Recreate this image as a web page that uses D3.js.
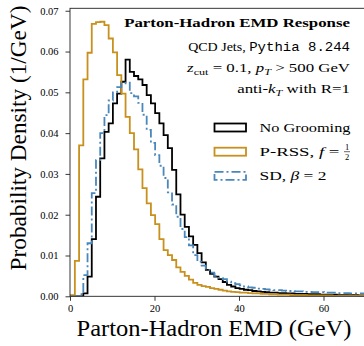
<!DOCTYPE html>
<html lang="en">
<head>
<meta charset="utf-8">
<title>Parton-Hadron EMD Response</title>
<script src="https://cdn.jsdelivr.net/npm/d3@7"></script>
<style>
body { margin:0; background:#ffffff; }
svg text { font-family:"Liberation Serif", "DejaVu Serif", serif; fill:#000; }
.mono { font-family:"Liberation Mono", "DejaVu Sans Mono", monospace; }
</style>
</head>
<body>
<script>

// histogram bins, 1 GeV wide
var binStart = 0.15;
var binWidth = 1;

// No Grooming
var noGrooming = [0, 0, 0, 0.0007, 0.0048, 0.0140, 0.0244, 0.0338, 0.0403, 0.0424,
	0.0473, 0.0497, 0.0526, 0.0580, 0.0550, 0.0540, 0.0532, 0.0518, 0.0493, 0.0473,
	0.0449, 0.0424, 0.0395, 0.0363, 0.0310, 0.0250, 0.0200, 0.0170, 0.0147, 0.0126,
	0.0106, 0.0083, 0.0065, 0.0055, 0.0048, 0.0042, 0.0035, 0.0028, 0.0024, 0.0020,
	0.0018, 0.0016, 0.0015, 0.0013, 0.0012, 0.0011, 0.0010, 0.0009, 0.0009, 0.0008,
	0.0008, 0.0007, 0.0007, 0.0006, 0.0006, 0.0006, 0.0005, 0.0005, 0.0005, 0.0004,
	0.0004, 0.0004, 0.0004, 0.0003, 0.0003, 0.0003, 0.0003, 0.0003, 0.0002, 0.0002];

// P-RSS, f = 1/2
var prss = [0.0003, 0.0087, 0.0370, 0.0532, 0.0597, 0.0668, 0.0672, 0.0673, 0.0665, 0.0632,
	0.0598, 0.0542, 0.0497, 0.0440, 0.0400, 0.0360, 0.0311, 0.0265, 0.0228, 0.0199,
	0.0177, 0.0140, 0.0113, 0.0101, 0.0089, 0.0071, 0.0060, 0.0050, 0.0041, 0.0033,
	0.0028, 0.0025, 0.0023, 0.0020, 0.0018, 0.0016, 0.0014, 0.0012, 0.0011, 0.0010,
	0.0009, 0.0009, 0.0008, 0.0007, 0.0007, 0.0006, 0.0006, 0.0005, 0.0005, 0.0004,
	0.0004, 0.0004, 0.0003, 0.0003, 0.0003, 0.0003, 0.0002, 0.0002, 0.0002, 0.0002,
	0.0002, 0.0002, 0.0001, 0.0001, 0.0001, 0.0001, 0.0001, 0.0001, 0.0001, 0.0001];

// SD, beta = 2
var softDrop = [0, 0, 0.0005, 0.0052, 0.0130, 0.0253, 0.0334, 0.0400, 0.0444, 0.0480,
	0.0500, 0.0513, 0.0522, 0.0524, 0.0498, 0.0490, 0.0474, 0.0445, 0.0408, 0.0376,
	0.0346, 0.0320, 0.0290, 0.0255, 0.0225, 0.0195, 0.0165, 0.0145, 0.0125, 0.0101,
	0.0085, 0.0075, 0.0065, 0.0058, 0.0050, 0.0045, 0.0042, 0.0036, 0.0032, 0.0030,
	0.0027, 0.0024, 0.0022, 0.0021, 0.0019, 0.0018, 0.0017, 0.0016, 0.0015, 0.0015,
	0.0014, 0.0013, 0.0013, 0.0012, 0.0012, 0.0011, 0.0011, 0.0010, 0.0010, 0.0010,
	0.0009, 0.0009, 0.0009, 0.0008, 0.0008, 0.0008, 0.0007, 0.0007, 0.0007, 0.0007];

var xTicks = [0, 20, 40, 60];
var yTicks = [0, 0.01, 0.02, 0.03, 0.04, 0.05, 0.06, 0.07];

//Width and height
var w = 364;
var h = 346;
var pad = { left: 70, top: 8.3, bottom: 296.3, right: 365.75 };

var xScale = d3.scaleLinear().domain([0, 70]).range([pad.left, pad.right]);
var yScale = d3.scaleLinear().domain([0, 0.0706]).range([pad.bottom, pad.top]);

var svg = d3.select("body").append("svg")
	.attr("width", w)
	.attr("height", h);

svg.append("clipPath").attr("id", "plotclip")
	.append("rect")
	.attr("x", pad.left).attr("y", pad.top - 2)
	.attr("width", pad.right - pad.left).attr("height", pad.bottom - pad.top + 2);

//step outline like histtype="step"
var stepPoints = function(vals) {
	var pts = [[binStart, 0]];
	vals.forEach(function(v, i) {
		pts.push([binStart + i * binWidth, v]);
		pts.push([binStart + (i + 1) * binWidth, v]);
	});
	pts.push([binStart + vals.length * binWidth, 0]);
	return pts;
};

var line = d3.line()
	.x(function(d) { return xScale(d[0]); })
	.y(function(d) { return yScale(d[1]); });

var series = [
	{ vals: noGrooming, color: "#000000", dash: null },
	{ vals: prss, color: "#c8901c", dash: null },
	{ vals: softDrop, color: "#4a87bb", dash: "9,3,2,3" }
];

var plot = svg.append("g").attr("clip-path", "url(#plotclip)");
series.forEach(function(s) {
	plot.append("path")
		.attr("d", line(stepPoints(s.vals)))
		.attr("fill", "none")
		.attr("stroke", s.color)
		.attr("stroke-width", 1.8)
		.attr("stroke-dasharray", s.dash);
});

//Axes
var xAxis = d3.axisBottom(xScale).tickValues(xTicks).tickSize(4.5).tickPadding(4);
var yAxis = d3.axisLeft(yScale).tickValues(yTicks).tickFormat(d3.format(".2f")).tickSize(4.5).tickPadding(7);

var gx = svg.append("g").attr("transform", "translate(0," + pad.bottom + ")").call(xAxis);
var gy = svg.append("g").attr("transform", "translate(" + pad.left + ",0)").call(yAxis);
[gx, gy].forEach(function(g) {
	g.select(".domain").remove();
	g.selectAll(".tick line").attr("stroke", "#222").attr("stroke-width", 0.9);
	g.selectAll(".tick text").attr("font-family", "Liberation Serif").attr("font-size", 10.5).attr("fill", "#000");
});

//frame
svg.append("rect")
	.attr("x", pad.left).attr("y", pad.top)
	.attr("width", pad.right - pad.left).attr("height", pad.bottom - pad.top)
	.attr("fill", "none").attr("stroke", "#222").attr("stroke-width", 0.9);

//stretch a text horizontally (Computer Modern is wider than Times)
var stretch = function(t, ax, width) {
	var len = t.node().getComputedTextLength();
	var k = width / len;
	var old = t.attr("transform") || "";
	t.attr("transform", old + " translate(" + ax + ",0) scale(" + k + ",1) translate(" + (-ax) + ",0)");
};

//axis labels
var ylab = svg.append("text")
	.attr("text-anchor", "middle").attr("dy", "0.35em")
	.attr("font-size", 22.5)
	.text("Probability Density (1/GeV)");
var ylen = ylab.node().getComputedTextLength();
ylab.attr("transform", "translate(18,138) rotate(-90) scale(" + (265 / ylen) + ",1)");

var xlab = svg.append("text")
	.attr("x", 214).attr("y", 328).attr("dy", "0.35em")
	.attr("text-anchor", "middle")
	.attr("font-size", 22.5)
	.text("Parton-Hadron EMD (GeV)");
stretch(xlab, 214, 275);

//header text
var tx = 350;
var t1 = svg.append("text").attr("x", tx).attr("y", 23).attr("dy", "0.35em")
	.attr("text-anchor", "end").attr("font-weight", "bold").attr("font-size", 12.5)
	.text("Parton-Hadron EMD Response");
stretch(t1, tx, 226);

var t2 = svg.append("text").attr("x", tx).attr("y", 47).attr("dy", "0.35em")
	.attr("text-anchor", "end").attr("font-size", 12.5);
t2.append("tspan").text("QCD Jets, ");
t2.append("tspan").attr("class", "mono").text("Pythia 8.244");
stretch(t2, tx, 162);

var t3 = svg.append("text").attr("x", tx).attr("y", 68).attr("dy", "0.35em")
	.attr("text-anchor", "end").attr("font-size", 12.5);
t3.append("tspan").attr("font-style", "italic").text("z");
t3.append("tspan").attr("font-size", 9).attr("dy", 3).text("cut");
t3.append("tspan").attr("dy", -3).text(" = 0.1,  ");
t3.append("tspan").attr("font-style", "italic").text("p");
t3.append("tspan").attr("font-size", 9).attr("font-style", "italic").attr("dy", 3).text("T");
t3.append("tspan").attr("dy", -3).text(" > 500 GeV");
stretch(t3, tx, 163);

var t4 = svg.append("text").attr("x", tx).attr("y", 89).attr("dy", "0.35em")
	.attr("text-anchor", "end").attr("font-size", 12.5);
t4.append("tspan").text("anti-");
t4.append("tspan").attr("font-style", "italic").text("k");
t4.append("tspan").attr("font-size", 9).attr("font-style", "italic").attr("dy", 3).text("T");
t4.append("tspan").attr("dy", -3).text(" with R=1");
stretch(t4, tx, 113);

//legend
var legY = [127.5, 151.7, 175.9];
series.forEach(function(s, i) {
	svg.append("rect")
		.attr("x", 214.5).attr("y", legY[i] - 4)
		.attr("width", 31.5).attr("height", 8)
		.attr("fill", "none")
		.attr("stroke", s.color)
		.attr("stroke-width", 1.8)
		.attr("stroke-dasharray", s.dash);
});

var lx = 259.5;
var l1 = svg.append("text").attr("x", lx).attr("y", legY[0]).attr("dy", "0.35em")
	.attr("font-size", 13).text("No Grooming");
stretch(l1, lx, 91);

var l2 = svg.append("text").attr("x", lx).attr("y", legY[1]).attr("dy", "0.35em")
	.attr("font-size", 13);
l2.append("tspan").text("P-RSS, ");
l2.append("tspan").attr("font-style", "italic").text("f");
l2.append("tspan").text(" = ");
stretch(l2, lx, 80);
//fraction 1/2
svg.append("text").attr("x", 347).attr("y", legY[1] - 5).attr("dy", "0.35em")
	.attr("text-anchor", "middle").attr("font-size", 8.5).text("1");
svg.append("text").attr("x", 347).attr("y", legY[1] + 5.5).attr("dy", "0.35em")
	.attr("text-anchor", "middle").attr("font-size", 8.5).text("2");
svg.append("line").attr("x1", 344).attr("x2", 350)
	.attr("y1", legY[1]).attr("y2", legY[1])
	.attr("stroke", "#000").attr("stroke-width", 0.6);

var l3 = svg.append("text").attr("x", lx).attr("y", legY[2]).attr("dy", "0.35em")
	.attr("font-size", 13);
l3.append("tspan").text("SD, ");
l3.append("tspan").attr("font-style", "italic").text("\u03B2");
l3.append("tspan").text(" = 2");
stretch(l3, lx, 67);

</script>
</body>
</html>
